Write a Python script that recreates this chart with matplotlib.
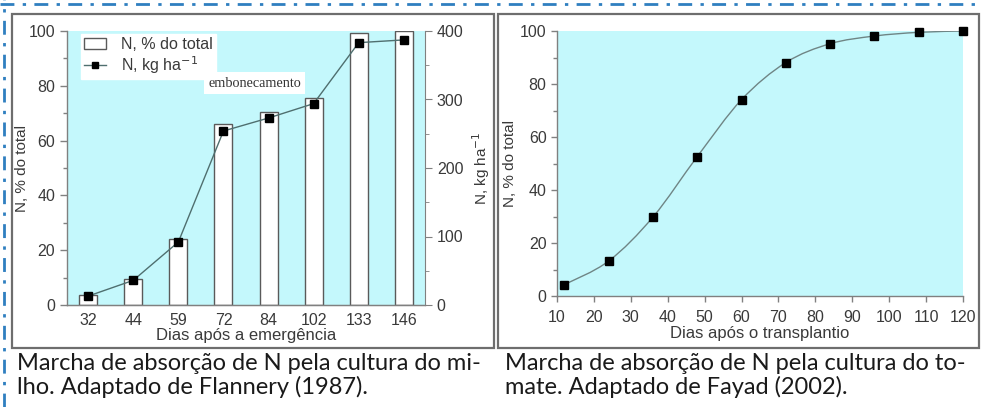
import numpy as np
import matplotlib
matplotlib.use("Agg")
import matplotlib.pyplot as plt
from matplotlib.path import Path
from matplotlib.patches import PathPatch, Rectangle, Patch
from matplotlib.lines import Line2D
from matplotlib.ticker import MultipleLocator

# dados - milho (Flannery 1987)
dias_milho = ["32", "44", "59", "72", "84", "102", "133", "146"]
n_pct_milho = [3.5, 9.5, 24, 66, 70.5, 75.5, 99.3, 100]
n_kg_milho = [13, 36, 92, 254, 273, 294, 383, 387]

# dados - tomate (Fayad 2002)
dias_tomate = [12, 24, 36, 48, 60, 72, 84, 96, 108, 120]
n_pct_tomate = [4.3, 13.2, 29.8, 52.6, 74.1, 88.1, 95.2, 98.1, 99.5, 100]

plt.rcParams['font.family'] = ['Liberation Sans', 'DejaVu Sans']
cyan = "#c4f8fc"
axcol = "#808080"
txtcol = "#3a3a3a"

fig = plt.figure(figsize=(9.81, 4.07), dpi=100)
W, H = 981, 407

def fx(px):
    return px / W

def fy(py):
    return 1 - py / H

# borda tracejada azul
fig.add_artist(Line2D([0, 1], [fy(4), fy(4)], color="#2f7fc0", lw=2,
                      linestyle=(0, (5, 3, 1.2, 3)), transform=fig.transFigure))
fig.add_artist(Line2D([fx(4), fx(4)], [0, 1], color="#2f7fc0", lw=2,
                      linestyle=(0, (5, 3, 1.2, 3)), transform=fig.transFigure))

# molduras dos paineis
for x0, x1 in [(12, 494), (498, 979)]:
    fig.add_artist(Rectangle((fx(x0), fy(348)), fx(x1 - x0), (348 - 14) / H,
                             fill=False, ec="#6e6e6e", lw=1.6,
                             transform=fig.transFigure))

def style(ax):
    ax.set_facecolor(cyan)
    for s in ax.spines.values():
        s.set_color(axcol)
        s.set_linewidth(1.0)
    ax.spines['top'].set_visible(False)
    ax.tick_params(colors=axcol, labelcolor=txtcol, labelsize=11.5, width=1.0)
    ax.tick_params(which='minor', colors=axcol, width=1.0, length=3)

# ---- painel esquerdo: milho ----
ax1 = fig.add_axes([fx(67), fy(305), fx(425 - 67), (305 - 31) / H])
style(ax1)
ax1.spines['right'].set_visible(False)
xpos = np.arange(len(dias_milho))
ax1.bar(xpos, n_pct_milho, width=0.4, color="white", edgecolor="#5a5a5a", lw=1.0, zorder=2)
ax1.set_xlim(-0.47, len(dias_milho) - 0.53)
ax1.set_ylim(0, 100)
ax1.set_xticks(xpos)
ax1.set_xticklabels(dias_milho)
ax1.tick_params(axis='x', length=0, pad=6)
ax1.yaxis.set_major_locator(MultipleLocator(20))
ax1.yaxis.set_minor_locator(MultipleLocator(10))
ax1.tick_params(axis='y', length=5)
ax1.set_ylabel("N, % do total", fontsize=11, color=txtcol, labelpad=0)
ax1.set_xlabel("Dias após a emergência", fontsize=12, color=txtcol, labelpad=0)

ax2 = ax1.twinx()
ax2.set_ylim(0, 400)
for s in ax2.spines.values():
    s.set_color(axcol)
ax2.spines['top'].set_visible(False)
ax2.spines['left'].set_visible(False)
ax2.plot(xpos, n_kg_milho, color="#4f6f6f", lw=1.0, marker="s", ms=6,
         mfc="black", mec="black", zorder=3)
ax2.yaxis.set_major_locator(MultipleLocator(100))
ax2.yaxis.set_minor_locator(MultipleLocator(50))
ax2.tick_params(colors=axcol, labelcolor=txtcol, labelsize=11.5, length=5)
ax2.tick_params(which='minor', colors=axcol, length=3)
ax2.set_ylabel("N, kg ha$^{-1}$", fontsize=11, color=txtcol, labelpad=5)

handles = [Patch(facecolor="white", edgecolor="#5a5a5a", lw=1.0),
           Line2D([], [], color="#4f6f6f", lw=1.0, marker="s", ms=5,
                  mfc="black", mec="black")]
leg = ax2.legend(handles, ["N, % do total", "N, kg ha$^{-1}$"], loc="upper left",
                 bbox_to_anchor=(0.03, 1.0), frameon=True, fancybox=False,
                 edgecolor="white", framealpha=1, fontsize=11.5,
                 handlelength=1.4, handletextpad=0.9, labelspacing=0.1,
                 borderpad=0.2, borderaxespad=0.2)
for t in leg.get_texts():
    t.set_color(txtcol)

ax2.text(0.525, 0.81, "embonecamento", transform=ax2.transAxes, ha="center",
         va="center", fontsize=10.3, family="Liberation Serif", color="#333333",
         bbox=dict(facecolor="white", edgecolor="none", pad=3), zorder=5)

# ---- painel direito: tomate ----
ax3 = fig.add_axes([fx(557), fy(296), fx(963 - 557), (296 - 31) / H])
style(ax3)
ax3.spines['right'].set_visible(False)
ax3.set_xlim(10, 120)
ax3.set_ylim(0, 100)
ax3.xaxis.set_major_locator(MultipleLocator(10))
ax3.yaxis.set_major_locator(MultipleLocator(20))
ax3.yaxis.set_minor_locator(MultipleLocator(10))
ax3.tick_params(axis='both', length=4)
ax3.tick_params(axis='x', pad=6)
ax3.set_ylabel("N, % do total", fontsize=11, color=txtcol, labelpad=2)
ax3.set_xlabel("Dias após o transplantio", fontsize=12, color=txtcol, labelpad=1)

# curva suave (Catmull-Rom -> Bezier) passando pelos pontos
P = np.column_stack([dias_tomate, n_pct_tomate]).astype(float)
Pe = np.vstack([P[0], P, P[-1]])
verts = [P[0]]
codes = [Path.MOVETO]
for i in range(1, len(Pe) - 2):
    c1 = Pe[i] + (Pe[i + 1] - Pe[i - 1]) / 6
    c2 = Pe[i + 1] - (Pe[i + 2] - Pe[i]) / 6
    verts += [c1, c2, Pe[i + 1]]
    codes += [Path.CURVE4] * 3
ax3.add_patch(PathPatch(Path(verts, codes), fill=False, ec="#6f8585", lw=1.0, zorder=2))
ax3.plot(dias_tomate, n_pct_tomate, ls="none", marker="s", ms=6,
         mfc="black", mec="black", zorder=3, clip_on=False)

# legendas das figuras
cap = dict(fontsize=17, family=["Lato", "DejaVu Sans"], color="#1a1a1a",
           va="top", ha="left", linespacing=1.1)
fig.text(fx(17), fy(353), "Marcha de absorção de N pela cultura do mi-\n"
         "lho. Adaptado de Flannery (1987).", **cap)
fig.text(fx(505), fy(353), "Marcha de absorção de N pela cultura do to-\n"
         "mate. Adaptado de Fayad (2002).", **cap)

fig.savefig("out.png", dpi=100)
